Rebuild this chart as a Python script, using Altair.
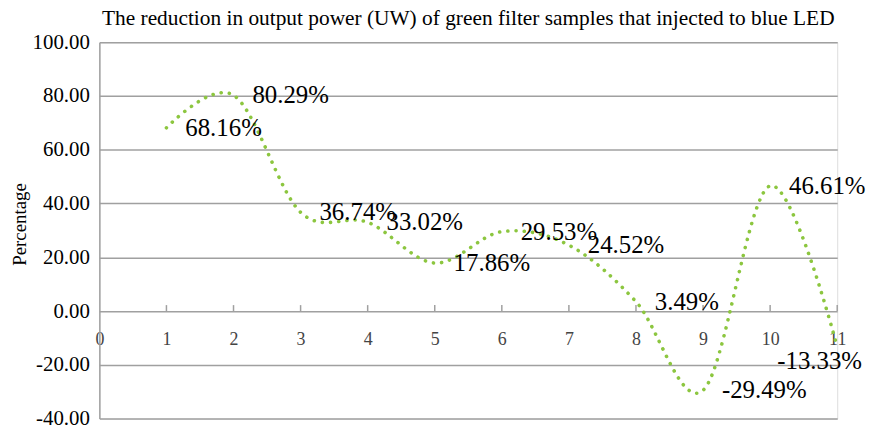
import altair as alt
import pandas as pd

# Data
samples = [1, 2, 3, 4, 5, 6, 7, 8, 9, 10, 11]
reduction = [68.16, 80.29, 36.74, 33.02, 17.86, 29.53, 24.52, 3.49, -29.49, 46.61, -13.33]
labels = ["68.16%", "80.29%", "36.74%", "33.02%", "17.86%", "29.53%",
          "24.52%", "3.49%", "-29.49%", "46.61%", "-13.33%"]
x_ticks = list(range(0, 12))
y_ticks = [-40, -20, 0, 20, 40, 60, 80, 100]

df = pd.DataFrame({"x": samples, "y": reduction, "label": labels})

W, H = 743, 379
Y_MIN, Y_MAX = -40, 100
zero_px = H * (Y_MAX - 0) / (Y_MAX - Y_MIN)

FONT = "Liberation Serif"
GRID = "#a0a0a0"
GREEN = "#8cc63f"

xscale = alt.Scale(domain=[0, 11], nice=False, zero=False)
yscale = alt.Scale(domain=[Y_MIN, Y_MAX], nice=False)

base = alt.Chart(df)

line = base.mark_line(
    interpolate="cardinal", tension=0, color=GREEN, strokeWidth=3.6,
    strokeDash=[0.1, 8.2], strokeCap="round"
).encode(
    x=alt.X("x:Q", scale=xscale,
            axis=alt.Axis(values=x_ticks, format="d", title=None, grid=False, domain=False,
                          ticks=False, tickSize=0, offset=-(H - zero_px),
                          labelFont=FONT, labelFontSize=18, labelColor="#444444",
                          labelPadding=20, labelFlush=False)),
    y=alt.Y("y:Q", scale=yscale,
            axis=alt.Axis(values=y_ticks,
                          labelExpr="replace(format(datum.value, '.2f'), '\u2212', '-')",
                          title="Percentage",
                          grid=True, gridColor=GRID, gridWidth=1.5,
                          domain=True, domainColor=GRID, domainWidth=1.5,
                          ticks=False, labelFont=FONT, labelFontSize=21,
                          labelColor="#000000", labelPadding=10,
                          titleFont=FONT, titleFontSize=19, titleFontWeight="normal",
                          titleColor="#000000", titleX=-80, titleY=183,
                          titleAngle=-90, titleAlign="center", titleBaseline="middle")),
)

tick_df = pd.DataFrame({"x": samples, "z": [0] * len(samples)})
ticks = alt.Chart(tick_df).mark_rule(color=GRID, strokeWidth=1.5).encode(
    x=alt.X("x:Q", scale=xscale),
    y=alt.Y("z:Q", scale=yscale),
    y2=alt.value(zero_px - 6),
)

text_main = base.transform_filter("datum.x != 11").mark_text(
    align="left", baseline="middle", dx=19, font=FONT, fontSize=25, color="#000000"
).encode(x=alt.X("x:Q", scale=xscale), y=alt.Y("y:Q", scale=yscale), text="label:N")

text_last = base.transform_filter("datum.x == 11").mark_text(
    align="right", baseline="middle", dx=25, dy=14, font=FONT, fontSize=25, color="#000000"
).encode(x=alt.X("x:Q", scale=xscale), y=alt.Y("y:Q", scale=yscale), text="label:N")

chart = alt.layer(ticks, line, text_main, text_last).properties(
    width=W, height=H,
    title=alt.TitleParams(
        "The reduction in output power (UW) of green filter samples that injected to blue LED",
        font=FONT, fontSize=21.5, fontWeight="normal", color="#000000",
        anchor="middle", frame="group", offset=2),
    autosize=alt.AutoSizeParams(type="none"),
    padding={"left": 92, "top": 33, "right": 30, "bottom": 8},
).configure_view(stroke=None).configure(background="white")

chart.save("out.html", embed_options={"renderer": "svg", "actions": False})
